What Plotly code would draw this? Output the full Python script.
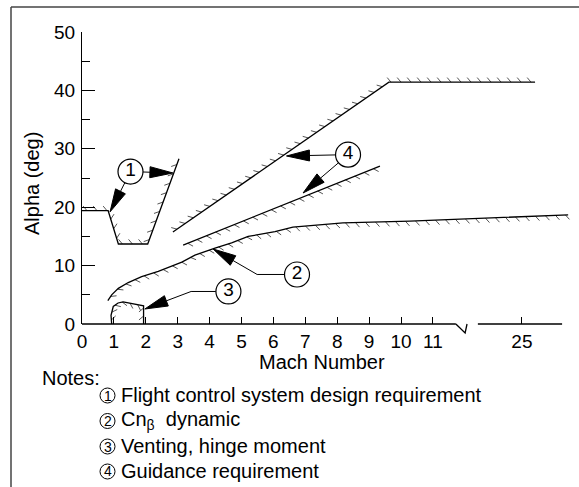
import numpy as np
import plotly.graph_objects as go

# ---------------------------------------------------------------- data
# Mach axis ticks (axis is broken between 11 and 25)
mach_ticks = [0, 1, 2, 3, 4, 5, 6, 7, 8, 9, 10, 11, 25]
mach_tick_text = [str(t) for t in mach_ticks]
alpha_major = 10
alpha_minor = 5

# (1) Flight control system design requirement
fcs_mach = [0.0, 0.82, 1.14, 2.06, 3.04]
fcs_alpha = [19.4, 19.4, 13.7, 13.7, 28.3]

# (2) Cn-beta dynamic
cnb_mach = [0.81, 0.93, 1.14, 1.45, 1.87, 2.39, 3.13, 3.54, 4.17, 4.69,
            5.21, 6.05, 6.61, 7.68, 8.18, 10.28, 36.6]
cnb_alpha = [4.0, 5.0, 6.1, 7.1, 8.1, 9.0, 10.6, 11.8, 13.0, 13.9,
             15.0, 15.8, 16.6, 17.0, 17.3, 17.6, 18.7]

# (3) Venting, hinge moment
vent_mach = [0.93, 0.91, 0.98, 1.13, 1.29, 1.56, 1.76, 1.93, 1.93]
vent_alpha = [0.0, 1.5, 3.0, 3.6, 3.8, 3.5, 3.25, 3.1, 0.0]

# (4) Guidance requirement (upper and lower limits)
guid_hi_mach = [2.85, 9.62, 28.3]
guid_hi_alpha = [15.75, 41.4, 41.4]
guid_lo_mach = [3.17, 9.34]
guid_lo_alpha = [13.5, 27.05]

note_numbers = ["1", "2", "3", "4"]
note_texts = [
    "Flight control system design requirement",
    "Cn<sub>\u03b2</sub>\u00a0 dynamic",
    "Venting, hinge moment",
    "Guidance requirement",
]

# ---------------------------------------------------------------- geometry
W, H = 579, 487
ML, MR, MT, MB = 82, 0, 32, 163
PW, PH = W - ML - MR, H - MT - MB
X_MAX = 15.58          # axis units shown
Y_MAX = 50
PX_X = PW / X_MAX      # pixels per axis unit
PX_Y = PH / Y_MAX

BREAK_LO, BREAK_HI = 11, 25
POS_25 = 13.79         # axis position of Mach 25
POST_SCALE = 0.125     # axis units per Mach beyond the break


def mach_axis(m):
    """Map Mach number to the broken horizontal axis."""
    if m is None:
        return None
    if m <= BREAK_LO:
        return m
    if m < BREAK_HI:
        return BREAK_LO + (m - BREAK_LO) * (POS_25 - BREAK_LO) / (BREAK_HI - BREAK_LO)
    return POS_25 + (m - BREAK_HI) * POST_SCALE


def ax_list(ms):
    return [mach_axis(m) for m in ms]


def px_x(p):   # page pixel -> paper x
    return (p - ML) / PW


def px_y(p):   # page pixel -> paper y
    return (H - MB - p) / PH


def to_screen(x, y):
    return np.array([x * PX_X, -y * PX_Y])


def from_screen(p):
    return p[0] / PX_X, -p[1] / PX_Y


def hatch(xs, ys, side, spacing=10.0, length=6.0):
    """Short slanted hatch strokes along a boundary; side=+1 left of travel."""
    P = np.array([to_screen(x, y) for x, y in zip(xs, ys)])
    seg = np.diff(P, axis=0)
    L = np.hypot(seg[:, 0], seg[:, 1])
    cum = np.concatenate([[0.0], np.cumsum(L)])
    hx, hy = [], []
    for s in np.arange(spacing / 2, cum[-1], spacing):
        i = min(int(np.searchsorted(cum, s, side="right")) - 1, len(L) - 1)
        t = seg[i] / L[i]
        p = P[i] + (s - cum[i]) * t
        n = np.array([t[1], -t[0]]) * side
        d = 0.77 * n - side * 0.64 * t
        q = p + length * d
        a, b = from_screen(p), from_screen(q)
        hx += [a[0], b[0], None]
        hy += [a[1], b[1], None]
    return hx, hy


fig = go.Figure()

boundaries = [
    (ax_list(fcs_mach), fcs_alpha, +1),
    (ax_list(cnb_mach), cnb_alpha, -1),
    (ax_list(vent_mach), vent_alpha, -1),
    (ax_list(guid_hi_mach), guid_hi_alpha, +1),
    (ax_list(guid_lo_mach), guid_lo_alpha, -1),
]
for xs, ys, side in boundaries:
    hx, hy = hatch(xs, ys, side, spacing=8 if max(ys) < 5 else 10)
    fig.add_trace(go.Scatter(x=hx, y=hy, mode="lines",
                             line=dict(color="#555555", width=1),
                             hoverinfo="skip"))
    fig.add_trace(go.Scatter(x=xs, y=ys, mode="lines",
                             line=dict(color="black", width=1.3),
                             hoverinfo="skip"))

# ---------------------------------------------------------------- callouts
callouts = {"1": (1.52, 26.1), "2": (6.74, 8.48), "3": (4.59, 5.57), "4": (8.34, 29.0)}
R_CIRCLE = 12.5


def add_arrow(tail, tip, start_off=0.0, head_len=23.0, head_w=11.0):
    a, b = to_screen(*tail), to_screen(*tip)
    d = (b - a) / np.hypot(*(b - a))
    a = a + start_off * d
    base = b - head_len * d
    nrm = np.array([-d[1], d[0]])
    p0, p1 = from_screen(a), from_screen(base)
    fig.add_trace(go.Scatter(x=[p0[0], p1[0]], y=[p0[1], p1[1]], mode="lines",
                             line=dict(color="black", width=1), hoverinfo="skip"))
    tri = [b, base + nrm * head_w / 2, base - nrm * head_w / 2, b]
    tri = [from_screen(p) for p in tri]
    fig.add_trace(go.Scatter(x=[p[0] for p in tri], y=[p[1] for p in tri],
                             mode="lines", fill="toself", fillcolor="black",
                             line=dict(color="black", width=1), hoverinfo="skip"))


def add_leader(start, end, start_off=0.0):
    a, b = to_screen(*start), to_screen(*end)
    d = (b - a) / np.hypot(*(b - a))
    a = a + start_off * d
    p0, p1 = from_screen(a), from_screen(b)
    fig.add_trace(go.Scatter(x=[p0[0], p1[0]], y=[p0[1], p1[1]], mode="lines",
                             line=dict(color="black", width=1), hoverinfo="skip"))


add_arrow(callouts["1"], (2.85, 25.86), R_CIRCLE)
add_arrow(callouts["1"], (0.88, 19.2), R_CIRCLE)
add_leader(callouts["2"], (5.49, 8.48), R_CIRCLE)
add_arrow((5.49, 8.48), (4.11, 12.84))
add_leader(callouts["3"], (3.42, 5.57), R_CIRCLE)
add_arrow((3.42, 5.57), (1.97, 2.57))
add_arrow(callouts["4"], (6.41, 28.77), R_CIRCLE)
add_arrow(callouts["4"], (6.93, 22.43), R_CIRCLE)

FONT = "Liberation Sans, Arial, sans-serif"

fig.add_trace(go.Scatter(
    x=[v[0] for v in callouts.values()], y=[v[1] for v in callouts.values()],
    mode="markers+text", text=list(callouts.keys()), textposition="middle center",
    textfont=dict(size=19, color="black", family=FONT),
    marker=dict(symbol="circle", size=2 * R_CIRCLE, color="white",
                line=dict(color="black", width=1.2)),
    cliponaxis=False, hoverinfo="skip"))

# ---------------------------------------------------------------- axes
fig.update_layout(
    width=W, height=H, margin=dict(l=ML, r=MR, t=MT, b=MB),
    paper_bgcolor="white", plot_bgcolor="white", showlegend=False,
    font=dict(family=FONT, size=19, color="black"),
    xaxis=dict(range=[0, X_MAX], showgrid=False, zeroline=False, showline=False,
               tickmode="array", tickvals=ax_list(mach_ticks), ticktext=mach_tick_text,
               ticks="inside", ticklen=7, tickwidth=1.2, tickcolor="black",
               ticklabelstandoff=4, tickfont=dict(size=19)),
    yaxis=dict(range=[0, Y_MAX], showgrid=False, zeroline=False, showline=True,
               linecolor="black", linewidth=1.3,
               tick0=0, dtick=alpha_major, ticks="inside", ticklen=13,
               tickwidth=1.2, tickcolor="black", ticklabelstandoff=2,
               tickfont=dict(size=19),
               minor=dict(dtick=alpha_minor, ticks="inside", ticklen=8,
                          tickwidth=1.2, tickcolor="black", showgrid=False)),
)

# broken Mach axis line
brk_a = 11.72
brk_b = 12.01
brk_c = 12.07
brk_d = 12.41
ax_end = 15.05
line = dict(color="black", width=1.3)
fig.add_shape(type="line", xref="paper", yref="paper", x0=0, y0=0,
              x1=brk_a / X_MAX, y1=0, line=line)
fig.add_shape(type="path", xref="paper", yref="paper",
              path=f"M {brk_a / X_MAX},0 L {brk_b / X_MAX},{px_y(333)} L {brk_c / X_MAX},0",
              line=line)
fig.add_shape(type="line", xref="paper", yref="paper", x0=brk_d / X_MAX, y0=0,
              x1=ax_end / X_MAX, y1=0, line=line)

# outer frame (left and top edges)
frame = dict(color="#444444", width=1.5)
fig.add_shape(type="line", xref="paper", yref="paper", x0=px_x(11), y0=px_y(7),
              x1=px_x(11), y1=px_y(H + 2), line=frame)
fig.add_shape(type="line", xref="paper", yref="paper", x0=px_x(11), y0=px_y(7),
              x1=px_x(W + 2), y1=px_y(7), line=frame)

# axis titles
fig.add_annotation(text="Alpha (deg)", xref="paper", yref="paper",
                   x=px_x(32), y=px_y(184), textangle=-90, showarrow=False,
                   font=dict(size=20), xanchor="center", yanchor="middle")
fig.add_annotation(text="Mach Number", xref="paper", yref="paper",
                   x=px_x(322), y=px_y(362), showarrow=False,
                   font=dict(size=20), xanchor="center", yanchor="middle")

# notes block with circled item numbers
fig.add_annotation(text="Notes:", xref="paper", yref="paper",
                   x=px_x(40), y=px_y(378), showarrow=False,
                   font=dict(size=20), xanchor="left", yanchor="middle")
note_rows = [395, 420.5, 446, 471]
NOTE_CX, NOTE_R = 107.5, 7.5
for row, num, txt in zip(note_rows, note_numbers, note_texts):
    fig.add_shape(type="circle", xref="paper", yref="paper",
                  x0=px_x(NOTE_CX - NOTE_R), x1=px_x(NOTE_CX + NOTE_R),
                  y0=px_y(row + 0.5 + NOTE_R), y1=px_y(row + 0.5 - NOTE_R),
                  line=dict(color="black", width=1))
    fig.add_annotation(text=num, xref="paper", yref="paper",
                       x=px_x(NOTE_CX), y=px_y(row + 0.5), showarrow=False,
                       font=dict(size=14), xanchor="center", yanchor="middle")
    fig.add_annotation(text=txt, xref="paper", yref="paper",
                       x=px_x(119), y=px_y(row), showarrow=False,
                       font=dict(size=20), xanchor="left", yanchor="middle")

fig.write_html("out.html")
